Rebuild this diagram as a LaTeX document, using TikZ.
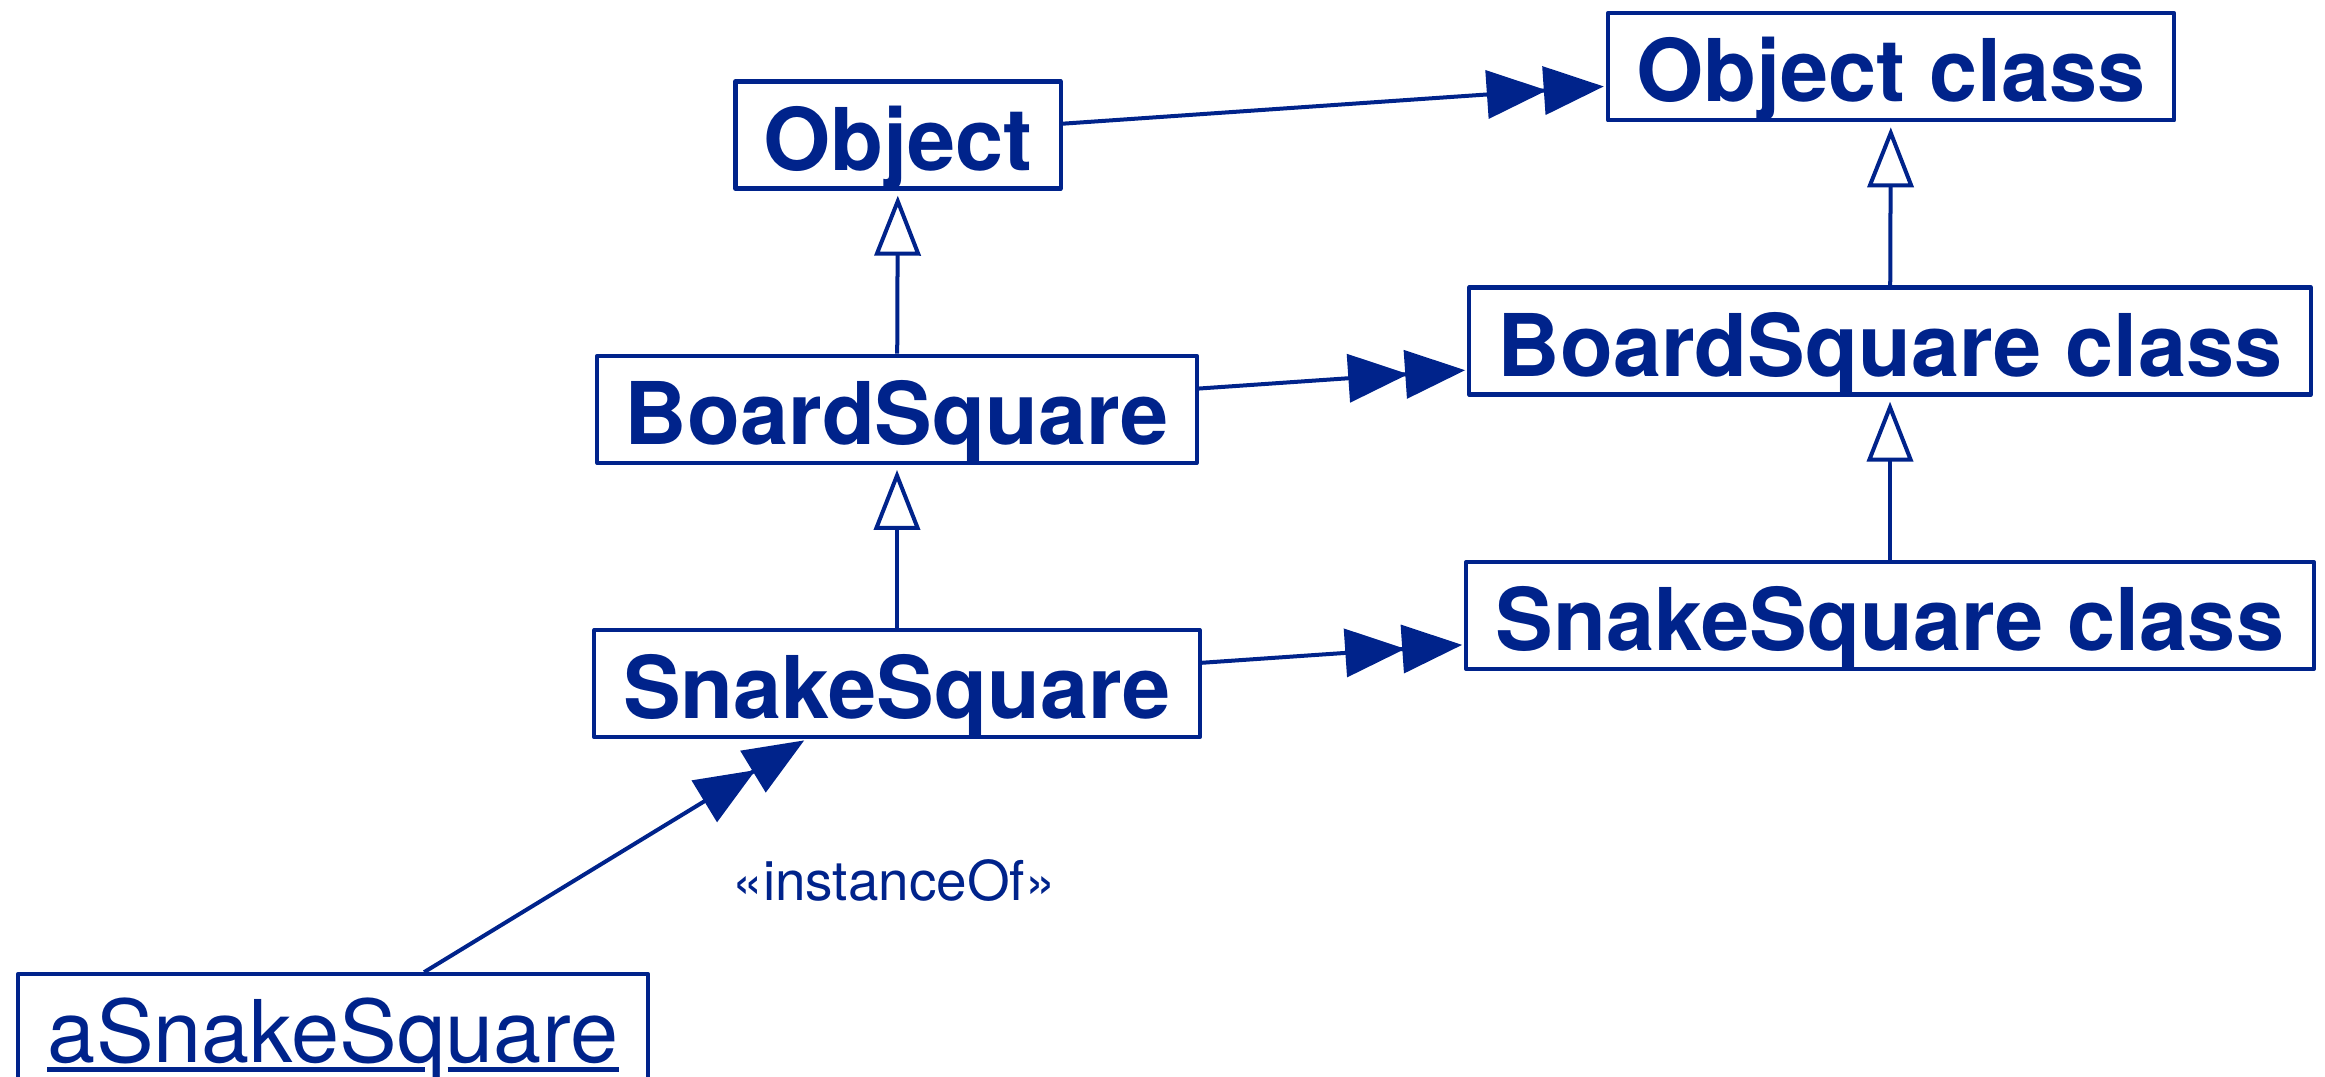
\documentclass[tikz,border=0pt]{standalone}
\usepackage{fontspec}
\setmainfont{TeX Gyre Heros}
\usetikzlibrary{arrows.meta}
\definecolor{umlblue}{RGB}{0,35,139}
\begin{document}
\begin{tikzpicture}[x=0.01cm, y=-0.01cm, color=umlblue, line join=round,
  classbox/.style={draw, line width=0.042cm, minimum height=1.07cm, inner sep=0pt,
    font=\fontsize{24.6}{30}\selectfont\bfseries, text height=20pt, text depth=0pt},
  objbox/.style={draw, line width=0.042cm, minimum height=1.07cm, inner sep=0pt},
  objtext/.style={inner sep=0pt, font=\fontsize{24.6}{30}\selectfont, text height=20pt, text depth=0pt},
  assoc/.style={line width=0.04cm, shorten >=0.02cm,
    -{Triangle[length=0.6cm, width=0.48cm, sep=-0.03cm]Triangle[length=0.6cm, width=0.48cm]}},
  generalize/.style={line width=0.04cm, shorten >=0.05cm,
    -{Triangle[open, length=0.6cm, width=0.46cm]}},
  stereo/.style={inner sep=0pt, font=\fontsize{15.6}{18}\selectfont}
]
\useasboundingbox (0,0) rectangle (2325,1076);
\clip (0,0) rectangle (2325,1076);

% instance-side classes
\node[classbox, minimum width=3.25cm] (obj) at (898,135) {Object};
\node[classbox, minimum width=5.99cm] (bsq) at (897,409.3) {BoardSquare};
\node[classbox, minimum width=6.05cm] (ssq) at (897,683.7) {SnakeSquare};

% metaclass side
\node[classbox, minimum width=5.66cm] (objc) at (1891,66.7) {Object class};
\node[classbox, minimum width=8.41cm] (bsqc) at (1890,341) {BoardSquare class};
\node[classbox, minimum width=8.47cm] (ssqc) at (1890,615.5) {SnakeSquare class};

% the instance object
\node[objbox, minimum width=6.30cm] (asq) at (333,1027.8) {};
\node[objtext] (asqname) at (asq) {aSnakeSquare};
\draw[line width=0.042cm] ([yshift=-0.065cm]asqname.base west) -- ++(3.775cm,0);
\draw[line width=0.042cm] ([xshift=-1.71cm,yshift=-0.065cm]asqname.base east) -- ([yshift=-0.065cm]asqname.base east);

% inheritance
\draw[generalize] (bsq) -- (obj);
\draw[generalize] (ssq) -- (bsq);
\draw[generalize] (bsqc) -- (objc);
\draw[generalize] (ssqc) -- (bsqc);

% class-of links
\draw[assoc] (obj) -- (objc);
\draw[assoc] (bsq) -- (bsqc);
\draw[assoc] (ssq) -- (ssqc);

% instance-of link
\draw[assoc] (asq) -- (ssq);
\node[stereo, anchor=base] (lbl) at (894,900) {«instanceOf»};
\end{tikzpicture}
\end{document}
